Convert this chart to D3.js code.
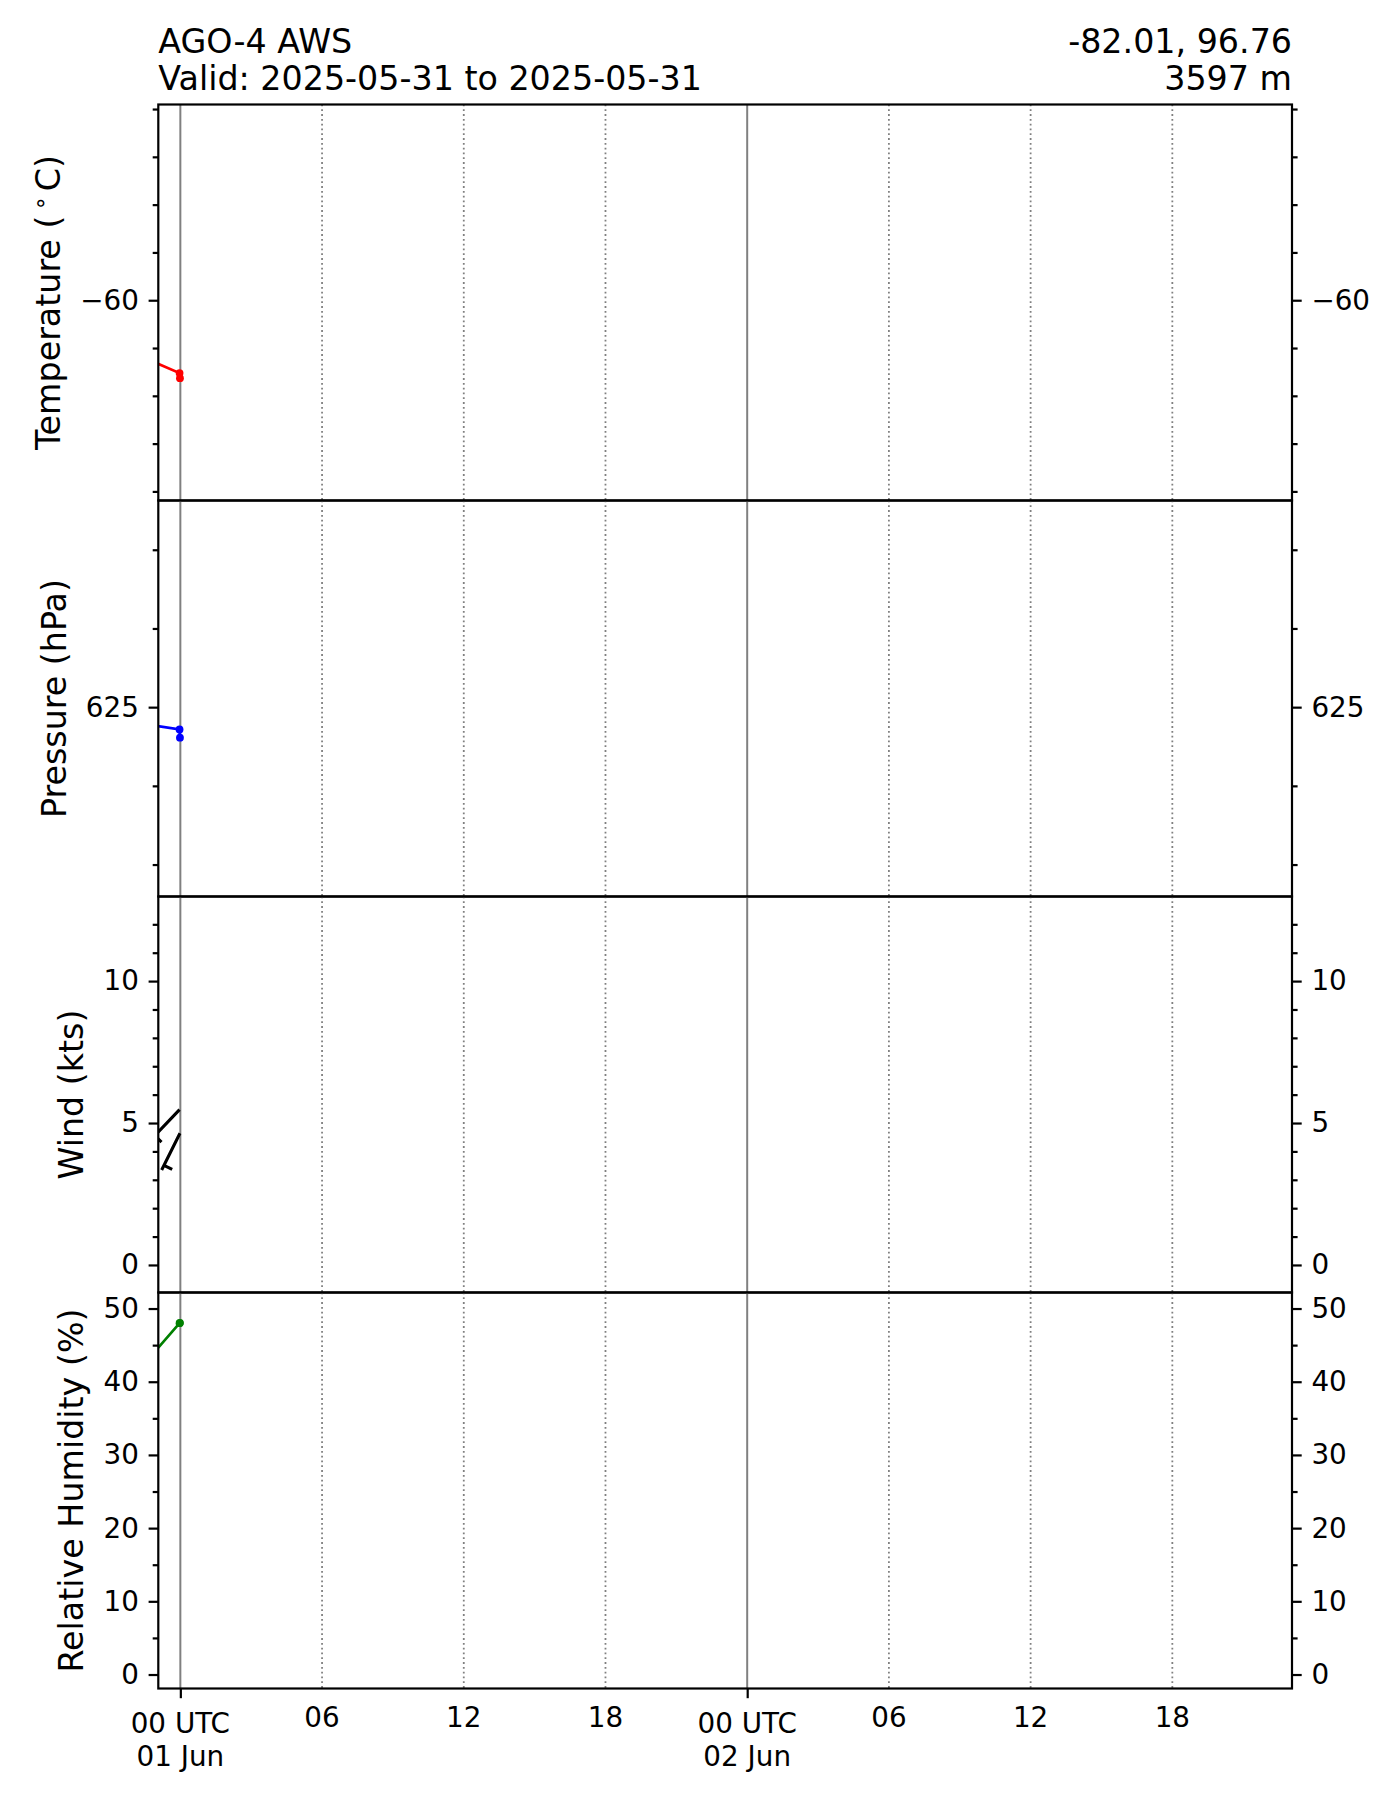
<!DOCTYPE html>
<html>
<head>
<meta charset="utf-8">
<script src="https://cdn.jsdelivr.net/npm/d3@7"></script>
<style>
    body { margin: 0; background: #fff; }
    svg text { font-family: "DejaVu Sans", sans-serif; fill: #000; }
</style>
</head>
<body>
<div id="vis-container"></div>
<script>
// station header text
const stationName = "AGO-4 AWS";
const validText = "Valid: 2025-05-31 to 2025-05-31";
const coordText = "-82.01, 96.76";
const elevText = "3597 m";

// time window of the plot (48 h)
const timeRange = ["2025-05-31T23:04:00Z", "2025-06-02T23:04:00Z"];

// observations
const obsTimes = ["2025-05-31T22:00:00Z", "2025-05-31T23:58:00Z", "2025-05-31T23:59:00Z"];
const temperature = [-62.2, -63.05, -63.26];
const pressure = [624.03, 623.58, 623.06];
const humidity = [40.7, 48.0, 48.05];

// wind barbs (speed kts, direction deg from)
const windTimes = ["2025-05-31T23:58:00Z", "2025-05-31T23:59:00Z"];
const windSpeed = [5.47, 4.64];
const windDir = [223.6, 206.5];

// y limits and ticks
const tempDomain = [-68.38, -51.81];
const tempMajor = [-60];
const tempMinor = [-68, -66, -64, -62, -58, -56, -54, -52];
const presDomain = [612.97, 638.13];
const presMajor = [625];
const presMinor = [615, 620, 630, 635];
const windDomain = [-0.97, 12.98];
const windMajor = [0, 5, 10];
const windMinor = [1, 2, 3, 4, 6, 7, 8, 9, 11, 12];
const rhDomain = [-1.91, 52.19];
const rhMajor = [0, 10, 20, 30, 40, 50];
const rhMinor = [5, 15, 25, 35, 45];

// layout
const w = 1400, h = 1800;
const plotL = 158.3, plotR = 1292, plotT = 104.5, panelH = 396;
const majorLen = 9.7, minorLen = 5.6, pad = 9.7;
const tickFont = 27.8, labelFont = 33.3;

const svg = d3.select("#vis-container").append("svg")
    .attr("width", w)
    .attr("height", h);

const parse = d3.isoParse;
const x = d3.scaleUtc().domain(timeRange.map(parse)).range([plotL, plotR]);

// gridline times: midnights solid, 6-hourly dotted
const allHours = d3.utcHour.every(6).range(x.domain()[0], x.domain()[1]);
const dayTimes = allHours.filter(d => d.getUTCHours() === 0);
const sixTimes = allHours.filter(d => d.getUTCHours() !== 0);

const panels = [
    { domain: tempDomain, major: tempMajor, minor: tempMinor, values: temperature, color: "red", label: "temp" },
    { domain: presDomain, major: presMajor, minor: presMinor, values: pressure, color: "blue", label: "Pressure (hPa)" },
    { domain: windDomain, major: windMajor, minor: windMinor, values: null, color: "#000", label: "Wind (kts)" },
    { domain: rhDomain, major: rhMajor, minor: rhMinor, values: humidity, color: "green", label: "Relative Humidity (%)" }
];

function styleAxis(sel) {
    sel.attr("font-family", null).attr("font-size", null);
    sel.select(".domain").remove();
    sel.selectAll(".tick line").attr("stroke", "#000").attr("stroke-width", 2.2);
    sel.selectAll(".tick text").style("font-size", tickFont + "px");
}

// draw a (southern hemisphere) wind barb as a path string
function barbPath(bx, by, speed, dir) {
    const L = 41, spacing = 0.125 * L, bh = 0.45 * L;
    let spd = Math.round(speed / 5) * 5;
    const nFlags = Math.floor(spd / 50); spd -= nFlags * 50;
    const nFull = Math.floor(spd / 10); spd -= nFull * 10;
    const half = spd >= 5;
    const rad = dir * Math.PI / 180;
    const sx = Math.sin(rad), sy = -Math.cos(rad);
    const px = sy, py = -sx;
    const at = o => [bx + sx * o, by + sy * o];
    let p = "M" + bx + "," + by + "L" + at(L).join(",");
    let off = L;
    for (let i = 0; i < nFlags; i++) {
        const a = at(off), b = at(off - spacing * 2);
        p += "M" + a.join(",") + "L" + (a[0] + px * bh) + "," + (a[1] + py * bh) + "L" + b.join(",") + "Z";
        off -= spacing * 3;
    }
    for (let i = 0; i < nFull; i++) {
        const a = at(off);
        p += "M" + a.join(",") + "L" + (a[0] + px * bh) + "," + (a[1] + py * bh);
        off -= spacing;
    }
    if (half) {
        if (off === L) off -= spacing;
        const a = at(off);
        p += "M" + a.join(",") + "L" + (a[0] + px * bh / 2) + "," + (a[1] + py * bh / 2);
    }
    return p;
}

panels.forEach(function (pnl, i) {
    const y0 = plotT + i * panelH;
    const y = d3.scaleLinear().domain(pnl.domain).range([y0 + panelH, y0]);

    svg.append("clipPath").attr("id", "clip" + i)
        .append("rect")
        .attr("x", plotL).attr("y", y0)
        .attr("width", plotR - plotL).attr("height", panelH);

    const plot = svg.append("g").attr("clip-path", "url(#clip" + i + ")");

    // gridlines
    plot.selectAll(".dot-grid").data(sixTimes).enter().append("line")
        .attr("x1", d => x(d)).attr("x2", d => x(d))
        .attr("y1", y0).attr("y2", y0 + panelH)
        .attr("stroke", "#808080").attr("stroke-width", 1.8)
        .attr("stroke-dasharray", "1.8,3");
    plot.selectAll(".day-grid").data(dayTimes).enter().append("line")
        .attr("x1", d => x(d)).attr("x2", d => x(d))
        .attr("y1", y0).attr("y2", y0 + panelH)
        .attr("stroke", "#808080").attr("stroke-width", 2);

    if (pnl.values) {
        const pts = obsTimes.map((t, k) => [parse(t), pnl.values[k]]);
        plot.append("path")
            .datum(pts)
            .attr("fill", "none")
            .attr("stroke", pnl.color)
            .attr("stroke-width", 2.7)
            .attr("d", d3.line().x(d => x(d[0])).y(d => y(d[1])));
        plot.selectAll(".pt").data(pts.filter(d => x(d[0]) >= plotL)).enter().append("circle")
            .attr("cx", d => x(d[0]))
            .attr("cy", d => y(d[1]))
            .attr("r", 3.9)
            .attr("fill", pnl.color);
    } else {
        plot.selectAll(".barb").data(windTimes.map((t, k) => [parse(t), windSpeed[k], windDir[k]]))
            .enter().append("path")
            .attr("fill", "none")
            .attr("stroke", "#000")
            .attr("stroke-width", 3.1)
            .attr("d", d => barbPath(x(d[0]), y(d[1]), d[1], d[2]));
    }

    // left axis
    const gl = svg.append("g").attr("transform", "translate(" + plotL + ",0)");
    gl.append("g").call(d3.axisLeft(y).tickValues(pnl.minor).tickSize(minorLen).tickFormat("")).call(styleAxis);
    const glm = gl.append("g").call(d3.axisLeft(y).tickValues(pnl.major).tickSize(majorLen).tickPadding(pad)).call(styleAxis);

    // right axis
    const gr = svg.append("g").attr("transform", "translate(" + plotR + ",0)");
    gr.append("g").call(d3.axisRight(y).tickValues(pnl.minor).tickSize(minorLen).tickFormat("")).call(styleAxis);
    gr.append("g").call(d3.axisRight(y).tickValues(pnl.major).tickSize(majorLen).tickPadding(pad)).call(styleAxis);

    // frame
    svg.append("rect")
        .attr("x", plotL).attr("y", y0)
        .attr("width", plotR - plotL).attr("height", panelH)
        .attr("fill", "none").attr("stroke", "#000").attr("stroke-width", 2.2);

    // y label, left of the tick labels
    const labLeft = plotL + d3.min(glm.selectAll(".tick text").nodes(), n => n.getBBox().x);
    const lx = labLeft - 11.1 - 9;
    const yl = svg.append("text")
        .attr("transform", "translate(" + lx + "," + (y0 + panelH / 2) + ") rotate(-90)")
        .attr("text-anchor", "middle")
        .style("font-size", labelFont + "px");
    if (pnl.label === "temp") {
        yl.append("tspan").text("Temperature (");
        yl.append("tspan").attr("dx", 5).attr("dy", -12).style("font-size", "23px").text("\u2218");
        yl.append("tspan").attr("dx", 5).attr("dy", 12).text("C)");
    } else {
        yl.text(pnl.label);
    }

    // time axis only under the last panel
    if (i === panels.length - 1) {
        const yb = y0 + panelH;
        const gb = svg.append("g").attr("transform", "translate(0," + yb + ")");
        gb.append("g")
            .call(d3.axisBottom(x).tickValues(dayTimes).tickSize(majorLen).tickPadding(pad).tickFormat(""))
            .call(styleAxis);
        // two-line labels at midnight
        dayTimes.forEach(function (d) {
            const t = gb.append("text")
                .attr("text-anchor", "middle")
                .style("font-size", tickFont + "px");
            t.append("tspan").attr("x", x(d)).attr("y", 44).text("00 UTC");
            t.append("tspan").attr("x", x(d)).attr("y", 77.4).text(d3.utcFormat("%d %b")(d));
        });
        gb.selectAll(".hr-lab").data(sixTimes).enter().append("text")
            .attr("x", d => x(d))
            .attr("y", 38.5)
            .attr("text-anchor", "middle")
            .style("font-size", tickFont + "px")
            .text(d => d3.utcFormat("%H")(d));
    }
});

// header
const hl = svg.append("text").attr("x", plotL).style("font-size", labelFont + "px");
hl.append("tspan").attr("x", plotL).attr("y", 53).text(stationName);
hl.append("tspan").attr("x", plotL).attr("y", 89.5).text(validText);
const hr = svg.append("text").attr("x", plotR).attr("text-anchor", "end").style("font-size", labelFont + "px");
hr.append("tspan").attr("x", plotR).attr("y", 53).text(coordText);
hr.append("tspan").attr("x", plotR).attr("y", 89.5).text(elevText);
</script>
</body>
</html>
